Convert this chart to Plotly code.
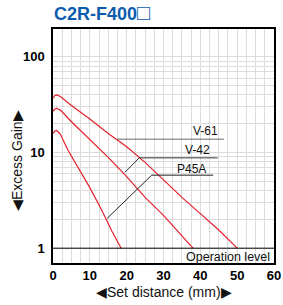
import math
import plotly.graph_objects as go

# ---- data ----
v61_dist = [0, 0.5, 1, 2, 5, 10, 15, 20, 25, 30, 35, 40, 45, 50]
v61_gain = [37, 39.5, 40, 38.5, 31, 22.4, 15.8, 11.5, 7.9, 5.2, 3.4, 2.3, 1.55, 1.0]

v42_dist = [0, 0.5, 1, 2, 5, 10, 15, 20, 25, 30, 35, 38]
v42_gain = [27, 28.5, 29, 27.8, 21, 13.8, 8.9, 5.6, 3.4, 2.2, 1.35, 1.0]

p45a_dist = [0, 0.5, 1, 2, 4, 7, 10, 13, 16, 18.5]
p45a_gain = [15.8, 16.8, 17, 15.5, 10.7, 6.9, 4.3, 2.6, 1.5, 1.0]

series_names = ["V-61", "V-42", "P45A"]
x_ticks = [0, 10, 20, 30, 40, 50, 60]
y_ticks = [1, 10, 100]
y_minor = [v * 10 ** d for d in range(0, 2) for v in range(2, 10)]
operation_level = 1

RED = "#e4202a"
FONT = "Liberation Sans, Arial"
fig = go.Figure()
for name, xs, ys in zip(series_names, [v61_dist, v42_dist, p45a_dist], [v61_gain, v42_gain, p45a_gain]):
    fig.add_trace(go.Scatter(x=xs, y=ys, mode="lines", name=name,
                             line=dict(color=RED, width=1.2),
                             showlegend=False, hoverinfo="skip"))

# operation level line
fig.add_trace(go.Scatter(x=[0, 60], y=[operation_level, operation_level], mode="lines",
                         line=dict(color="black", width=1), showlegend=False, hoverinfo="skip"))

# leader lines (label guides)
leaders = [
    # (label, text_x, text_y, horiz_x0, horiz_x1, horiz_y, diag_x, diag_y, color)
    ("V-61", 45.3, 16.9, 17.4, 46.4, 13.8, None, None, "#666666"),
    ("V-42", 43.1, 10.6, 23.4, 44.7, 8.8, 19.5, 6.2, "#333333"),
    ("P45A", 42.2, 6.8, 26.8, 43.5, 5.8, 14.7, 2.05, "#222222"),
]
for lab, tx, ty, hx0, hx1, hy, dx, dy, col in leaders:
    xs = [hx1, hx0] + ([dx] if dx is not None else [])
    ys = [hy, hy] + ([dy] if dy is not None else [])
    fig.add_trace(go.Scatter(x=xs, y=ys, mode="lines", line=dict(color=col, width=1),
                             showlegend=False, hoverinfo="skip"))
    fig.add_annotation(x=tx, y=math.log10(ty), text=lab, showarrow=False, xanchor="right",
                       yanchor="middle", font=dict(family=FONT, size=12, color="#111"))

fig.add_annotation(x=59.5, y=math.log10(0.81), text="Operation level", showarrow=False,
                   xanchor="right", yanchor="middle",
                   font=dict(family=FONT, size=12.5, color="#111"))

# title
fig.add_annotation(xref="paper", yref="paper", x=-0.005, y=1.0, yshift=17,
                   text="<b>C2R-F400</b><span style='font-size:22px'>□</span>",
                   showarrow=False, xanchor="left", yanchor="middle",
                   font=dict(family=FONT, size=18, color="#0b5cad"))

# axis titles
fig.add_annotation(xref="paper", yref="paper", x=0.5, y=0, yshift=-29, text="◀Set distance (mm)▶",
                   showarrow=False, xanchor="center", yanchor="middle",
                   font=dict(family=FONT, size=14, color="#111"))
fig.add_annotation(xref="paper", yref="paper", x=0, xshift=-36, y=0.5, yshift=-15,
                   text="◀Excess Gain▶", textangle=-90,
                   showarrow=False, xanchor="center", yanchor="middle",
                   font=dict(family=FONT, size=14, color="#111"))

GRID = "#dcdcdc"
fig.update_xaxes(range=[0, 60], tickvals=x_ticks, showgrid=True, gridcolor=GRID, gridwidth=1,
                 minor=dict(dtick=2.5, showgrid=True, gridcolor=GRID, gridwidth=1),
                 showline=True, linecolor="black", linewidth=1.5, mirror=True, ticks="",
                 zeroline=False, automargin=False,
                 tickfont=dict(family=FONT, size=13, color="black", weight="bold"))
fig.update_yaxes(type="log", range=[-0.155, 2.292], tickvals=y_ticks, ticktext=[str(v) for v in y_ticks],
                 showgrid=True, gridcolor=GRID, gridwidth=1,
                 minor=dict(tickvals=y_minor, showgrid=True, gridcolor=GRID, gridwidth=1),
                 showline=True, linecolor="black", linewidth=1.5, mirror=True, ticks="",
                 ticklabelstandoff=4, automargin=False,
                 tickfont=dict(family=FONT, size=13, color="black", weight="bold"))

fig.update_layout(width=283, height=305, margin=dict(l=53, r=9, t=29, b=42, autoexpand=False),
                  plot_bgcolor="white", paper_bgcolor="white")

fig.write_html("out.html", config={"displayModeBar": False},
               post_script="document.body.style.margin='0px';document.body.style.overflow='hidden';")
